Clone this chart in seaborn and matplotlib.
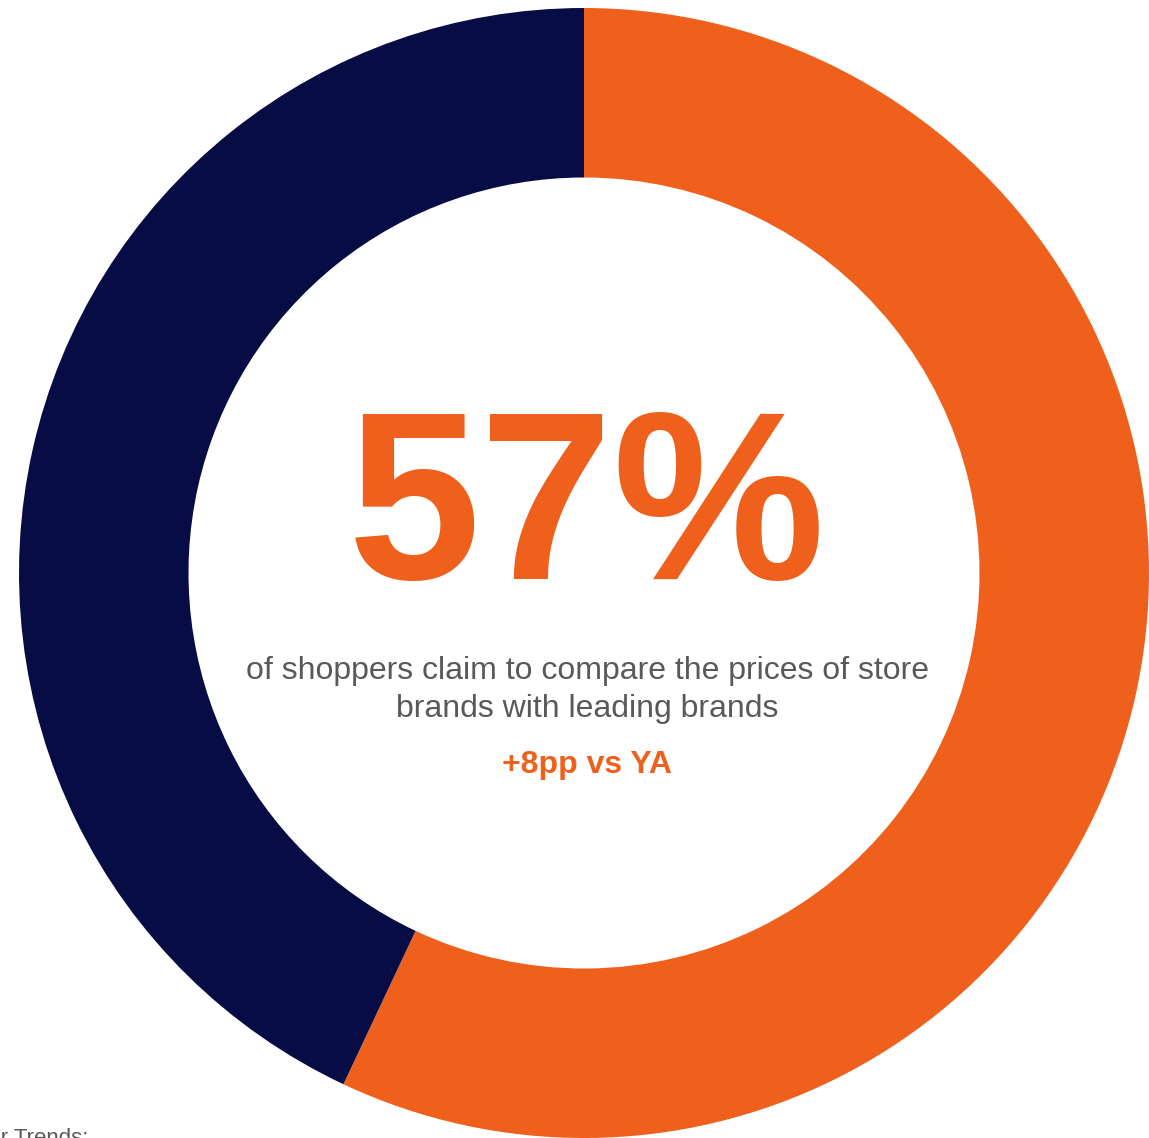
import matplotlib
matplotlib.use("Agg")
import matplotlib.pyplot as plt
import seaborn as sns

# Data
categories = ["Compare prices", "Do not compare"]
values = [57, 43]
colors = ["#EE601C", "#070C45"]
headline = "57%"
subtitle = "of shoppers claim to compare the prices of store\nbrands with leading brands"
change_label = "+8pp vs YA"
footer = "Source: Consumer Trends:"

sns.set_theme(style="white")
plt.rcParams['font.family'] = ['Liberation Sans', 'DejaVu Sans']

W, H = 1149, 1138
fig = plt.figure(figsize=(W / 100, H / 100), dpi=100)
fig.patch.set_facecolor("white")

cx, cy, R = 584, 573, 565
ax = fig.add_axes([(cx - R) / W, 1 - (cy + R) / H, 2 * R / W, 2 * R / H])
ax.pie(values, colors=colors, startangle=90, counterclock=False, radius=1.0,
       wedgeprops=dict(width=0.30, edgecolor="none", linewidth=0))
ax.set_xlim(-1, 1)
ax.set_ylim(-1, 1)
ax.set_aspect("equal")
ax.axis("off")

def fy(py):
    return 1 - py / H

fig.text(587 / W, fy(517), headline, ha="center", va="center",
         fontsize=172, fontweight="bold", color="#EE601C")
fig.text(587 / W, fy(690), subtitle, ha="center", va="center",
         fontsize=23, color="#595959", linespacing=1.32)
fig.text(587 / W, fy(765), change_label, ha="center", va="center",
         fontsize=23, fontweight="bold", color="#EE601C")
fig.text(88 / W, fy(1144), footer, ha="right", va="baseline",
         fontsize=16, color="#595959")

fig.savefig("out.png", dpi=100, facecolor="white")
